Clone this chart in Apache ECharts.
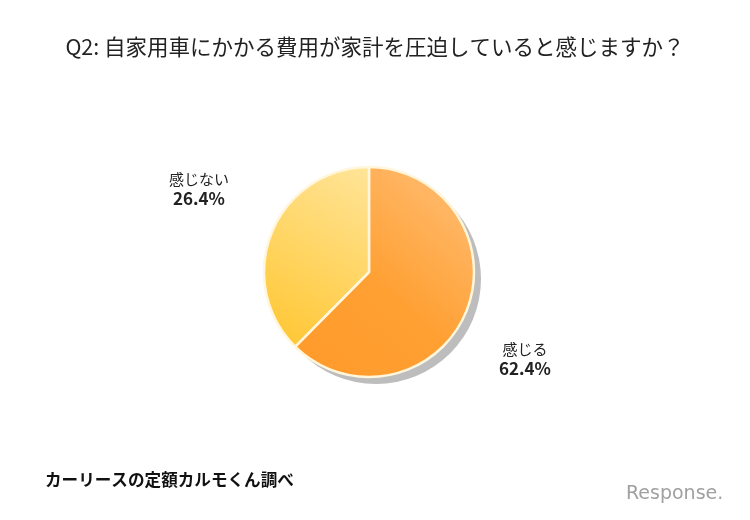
<!DOCTYPE html>
<html><head><meta charset="utf-8">
<script src="https://cdn.jsdelivr.net/npm/echarts@6/dist/echarts.min.js"></script>
<style>html,body{margin:0;padding:0;background:#fff}#c{width:750px;height:520px}</style>
</head><body><div id="c"></div>
<script>
const titleText = 'Q2: 自家用車にかかる費用が家計を圧迫していると感じますか？';
const categories = ['感じる', '感じない'];
const sliceValues = [62.4, 37.6];
const labelValues = ['62.4%', '26.4%'];
const sourceText = 'カーリースの定額カルモくん調べ';

const FONT = '"Noto Sans CJK JP", sans-serif';
const colors = [
  new echarts.graphic.LinearGradient(1, 0, 0, 1, [{offset: 0, color: '#FFC07A'}, {offset: 0.55, color: '#FFA033'}, {offset: 1, color: '#FF9A2A'}]),
  new echarts.graphic.LinearGradient(1, 0, 0, 1, [{offset: 0, color: '#FFE59A'}, {offset: 1, color: '#FFC52E'}])
];
const labelPos = [{x: 525, y: 359}, {x: 199, y: 189}];

const chart = echarts.init(document.getElementById('c'));
chart.setOption({
  backgroundColor: '#fff',
  animation: false,
  title: {
    text: titleText, left: 'center', top: 31,
    textStyle: {fontFamily: FONT, fontSize: 21.5, fontWeight: 'normal', color: '#222'}
  },
  graphic: [
    {type: 'text', left: 45, top: 471, style: {text: sourceText, font: 'bold 16.6px ' + FONT, fill: '#111', shadowColor: 'rgba(0,0,0,0.25)', shadowOffsetX: 1, shadowOffsetY: 1, shadowBlur: 1}},
    {type: 'text', left: 626, top: 485, style: {text: 'Response.', font: '19px "DejaVu Sans", sans-serif', fill: '#a0a0a0'}}
  ],
  series: [
    {
      type: 'pie', silent: true, center: [376, 279], radius: 105, z: 1,
      label: {show: false}, labelLine: {show: false},
      data: [{value: 1, itemStyle: {color: '#bdbdbd'}}]
    },
    {
      type: 'pie', center: [369, 272], radius: 105, startAngle: 90, clockwise: true, z: 2,
      itemStyle: {borderColor: '#FFF6DC', borderWidth: 2.5},
      labelLine: {show: false},
      label: {
        show: true, position: 'outside',
        formatter: p => '{a|' + p.name + '}\n{b|' + labelValues[p.dataIndex] + '}',
        rich: {
          a: {fontFamily: FONT, fontSize: 15, color: '#222', align: 'center', lineHeight: 19},
          b: {fontFamily: FONT, fontSize: 17, fontWeight: 'bold', color: '#222', align: 'center', lineHeight: 20}
        }
      },
      labelLayout: p => ({x: labelPos[p.dataIndex].x, y: labelPos[p.dataIndex].y, align: 'center', verticalAlign: 'middle'}),
      data: categories.map((c, i) => ({name: c, value: sliceValues[i], itemStyle: {color: colors[i]}}))
    }
  ]
});
</script></body></html>
